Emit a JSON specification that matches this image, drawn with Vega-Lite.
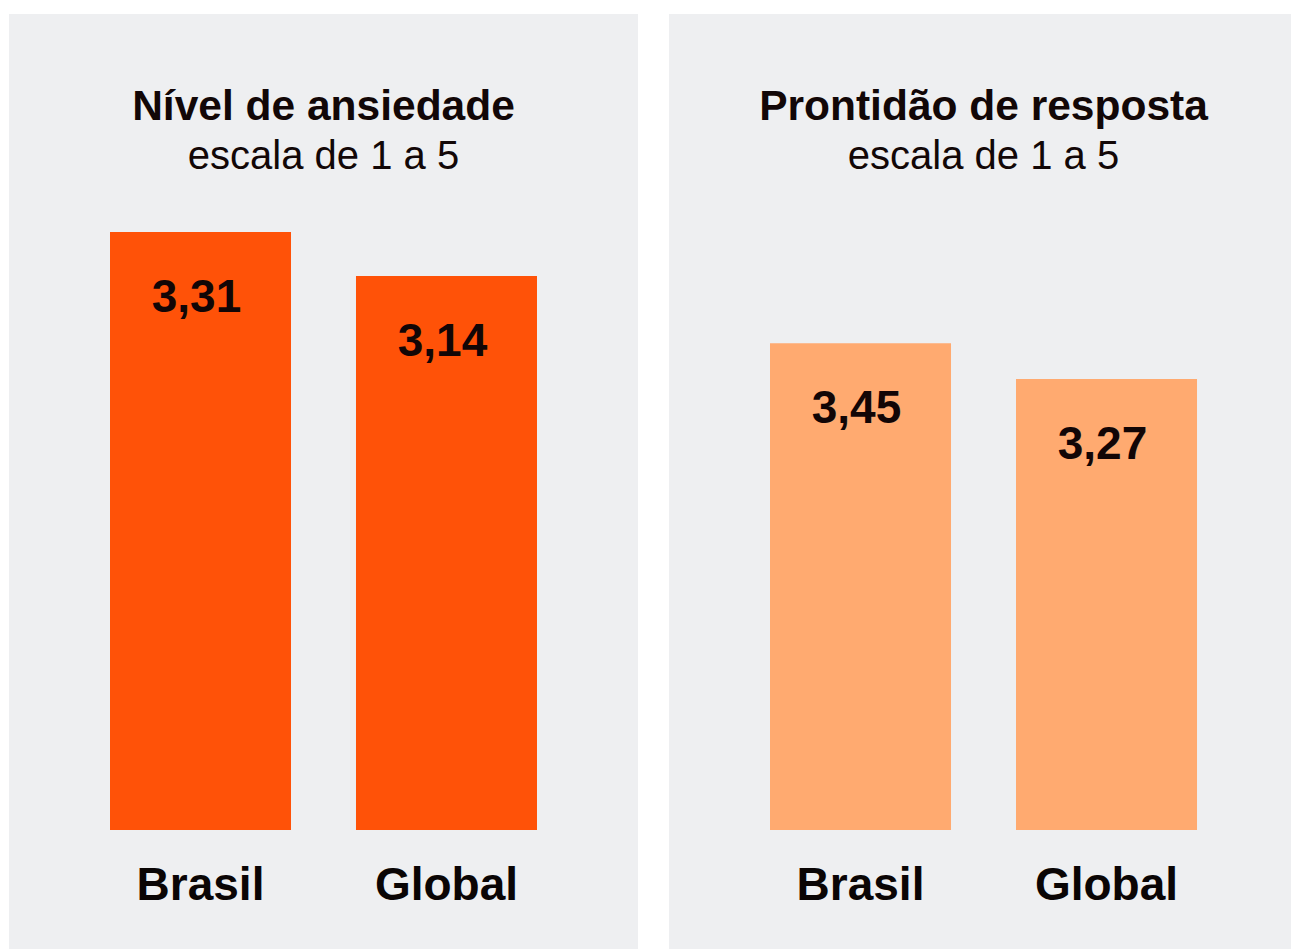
{
  "$schema": "https://vega.github.io/schema/vega-lite/v6.json",
  "padding": {"left": 9, "top": 14, "right": 0, "bottom": 0},
  "spacing": 31,
  "config": {
    "view": {"fill": "#eeeff1", "stroke": null},
    "font": "Liberation Sans",
    "locale": {"number": {"decimal": ",", "thousands": ".", "grouping": [3], "currency": ["R$ ", ""]}},
    "axis": {"grid": false}
  },
  "datasets": {
    "d": [
      {"indicador": "ansiedade", "regiao": "Brasil", "valor": 3.31},
      {"indicador": "ansiedade", "regiao": "Global", "valor": 3.14},
      {"indicador": "prontidao", "regiao": "Brasil", "valor": 3.45},
      {"indicador": "prontidao", "regiao": "Global", "valor": 3.27}
    ]
  },
  "data": {"name": "d"},
  "hconcat": [
    {
      "width": 629,
      "height": 935,
      "title": {
        "text": "Nível de ansiedade",
        "subtitle": "escala de 1 a 5",
        "anchor": "middle",
        "offset": -163,
        "fontSize": 42.5,
        "fontWeight": "bold",
        "color": "#120707",
        "subtitleFontSize": 40,
        "subtitleFontWeight": "normal",
        "subtitleColor": "#120707",
        "subtitlePadding": 8.5
      },
      "transform": [{"filter": "datum.indicador === 'ansiedade'"}],
      "encoding": {
        "x": {
          "field": "regiao", "type": "nominal", "sort": null,
          "scale": {"paddingInner": 0.2642, "paddingOuter": 0.4106},
          "axis": {
            "title": null, "domain": false, "ticks": false, "tickSize": 0,
            "labelAngle": 0, "labelFontSize": 46, "labelFontWeight": "bold",
            "labelColor": "#0a0505", "labelBaseline": "alphabetic",
            "labelPadding": 0, "offset": -50, "labelLimit": 0
          }
        }
      },
      "layer": [
        {
          "mark": {"type": "bar", "color": "#ff5208"},
          "encoding": {
            "y": {"field": "valor", "type": "quantitative",
                  "scale": {"domain": [0.5403, 4.1522], "nice": false, "zero": false}, "axis": null},
            "y2": {"datum": 1}
          }
        },
        {
          "mark": {"type": "text", "dy": 80, "dx": -4, "baseline": "alphabetic", "fontSize": 46, "fontWeight": "bold", "color": "#120606"},
          "encoding": {
            "y": {"field": "valor", "type": "quantitative"},
            "text": {"field": "valor", "type": "quantitative", "format": ".2f"}
          }
        }
      ]
    },
    {
      "width": 622,
      "height": 935,
      "title": {
        "text": "Prontidão de resposta",
        "subtitle": "escala de 1 a 5",
        "anchor": "middle",
        "offset": -163,
        "dx": 3.5,
        "fontSize": 42.5,
        "fontWeight": "bold",
        "color": "#120707",
        "subtitleFontSize": 40,
        "subtitleFontWeight": "normal",
        "subtitleColor": "#120707",
        "subtitlePadding": 8.5
      },
      "transform": [{"filter": "datum.indicador === 'prontidao'"}],
      "encoding": {
        "x": {
          "field": "regiao", "type": "nominal", "sort": null,
          "scale": {"paddingInner": 0.2642, "paddingOuter": 0.3963, "align": 0.518},
          "axis": {
            "title": null, "domain": false, "ticks": false, "tickSize": 0,
            "labelAngle": 0, "labelFontSize": 46, "labelFontWeight": "bold",
            "labelColor": "#0a0505", "labelBaseline": "alphabetic",
            "labelPadding": 0, "offset": -50, "labelLimit": 0
          }
        }
      },
      "layer": [
        {
          "mark": {"type": "bar", "color": "#ffaa70"},
          "encoding": {
            "y": {"field": "valor", "type": "quantitative",
                  "scale": {"domain": [0.4011, 5.1067], "nice": false, "zero": false}, "axis": null},
            "y2": {"datum": 1}
          }
        },
        {
          "mark": {"type": "text", "dy": 80, "dx": -4, "baseline": "alphabetic", "fontSize": 46, "fontWeight": "bold", "color": "#120606"},
          "encoding": {
            "y": {"field": "valor", "type": "quantitative"},
            "text": {"field": "valor", "type": "quantitative", "format": ".2f"}
          }
        }
      ]
    }
  ]
}
